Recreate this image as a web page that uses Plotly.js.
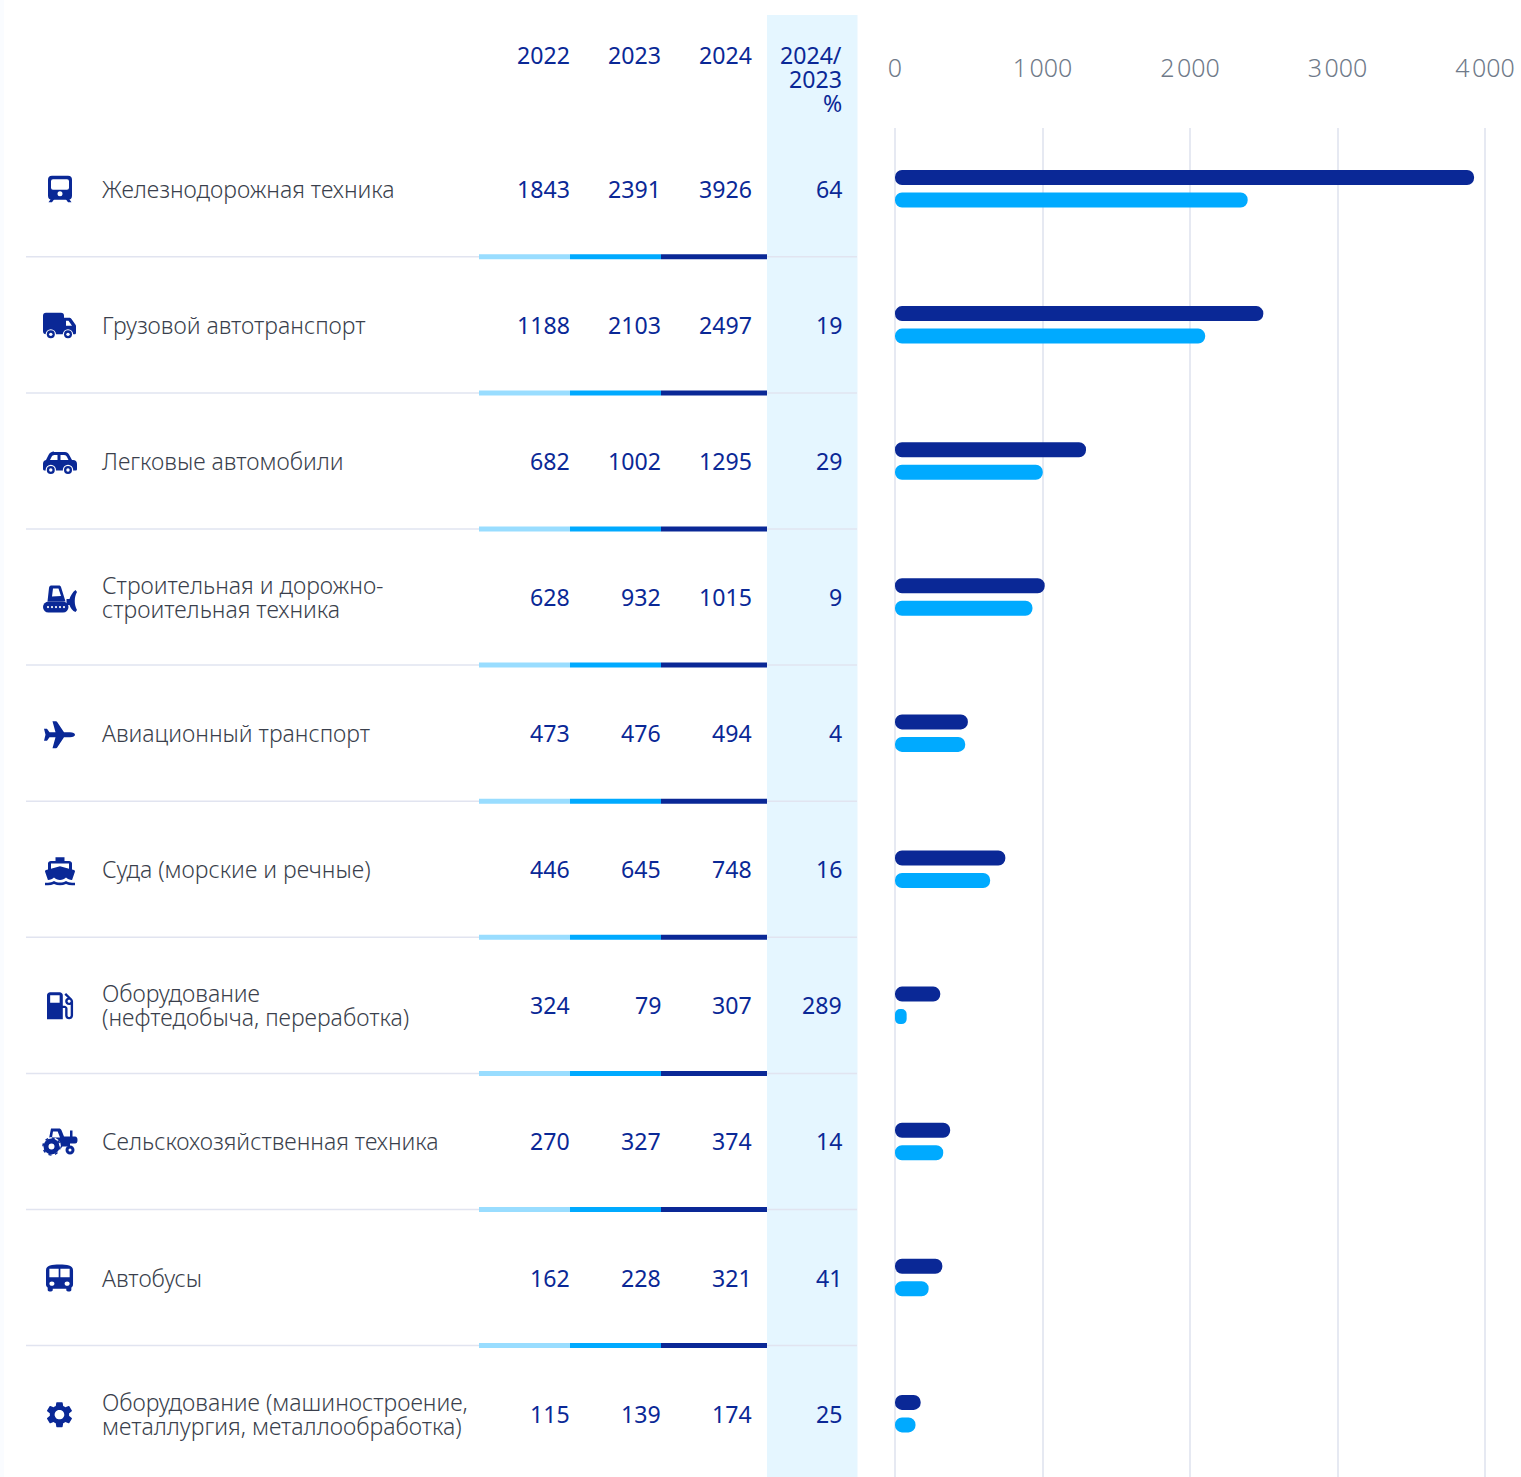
<!DOCTYPE html>
<html><head><meta charset="utf-8">
<script src="https://cdn.plot.ly/plotly-3.0.1.min.js"></script>
<style>html,body{margin:0;padding:0;background:#fff;overflow:hidden}</style>
</head><body><div id="chart" style="width:1521px;height:1477px"></div>
<script>
const categories=["Железнодорожная техника","Грузовой автотранспорт","Легковые автомобили","Строительная и дорожно-<br>строительная техника","Авиационный транспорт","Суда (морские и речные)","Оборудование<br>(нефтедобыча, переработка)","Сельскохозяйственная техника","Автобусы","Оборудование (машиностроение,<br>металлургия, металлообработка)"];
const v2022=[1843,1188,682,628,473,446,324,270,162,115];
const v2023=[2391,2103,1002,932,476,645,79,327,228,139];
const v2024=[3926,2497,1295,1015,494,748,307,374,321,174];
const pct=[64,19,29,9,4,16,289,14,41,25];
const headers=["2022","2023","2024"];
const tickVals=[0,1000,2000,3000,4000];
const tickText=["0","1\u200A000","2\u200A000","3\u200A000","4\u200A000"];

const W=1521,H=1477,ROW=136.1,NAVY="#0A2896",SKY="#00AAFF",PALE="#99DDFF",TINT="#E5F6FF",LINE="#E1E4F0",GREY="#6F7A89",TEXT="#3A3F4C";
const FF='"Noto Sans",sans-serif';
const px=x=>x/W, py=y=>1-y/H;
const mat=(t,d)=>`<path transform="${t}" d="${d}"/>`;
const ring=(x,y,r)=>`<circle cx="${x}" cy="${y}" r="${r+1.2}" fill="#fff"/><circle cx="${x}" cy="${y}" r="${r}"/><circle cx="${x}" cy="${y}" r="${r*0.42}" fill="#fff"/>`;
const icons=[
 `<path fill-rule="evenodd" d="M12 7h16a4 4 0 0 1 4 4v16a4 4 0 0 1-4 4H12a4 4 0 0 1-4-4V11a4 4 0 0 1 4-4zM13 10.500a2 2 0 0 0-2 2V19a2 2 0 0 0 2 2h14a2 2 0 0 0 2-2v-6.500a2 2 0 0 0-2-2zM20 22.500a2.500 2.500 0 1 0 0 5 2.500 2.500 0 0 0 0-5z"/><path d="M11 30l-2.500 3.500h3.500l2.500-3.500zM29 30l2.500 3.500H28L25.500 30z"/>`,
 `<path fill-rule="evenodd" d="M6 8h15a3 3 0 0 1 3 3v2h5c1 0 2 .5 2.500 1.200l3.500 5c.5.7 1 1.300 1 2.300v6.500c0 1-.7 1.500-1.500 1.500H6a3 3 0 0 1-3-3V11a3 3 0 0 1 3-3zM26 16v5h6l-3.500-5z"/>`+ring(10.8,29.500,4)+ring(28,29.500,4),
 `<path fill-rule="evenodd" d="M14 11h11c2 0 3 1 4 2.500l3 5.500h1c2.500 0 4 1.500 4 4v5c0 1-.5 1.500-1.500 1.500H5c-1 0-2-.5-2-1.500v-5c0-2.500 1-3.500 3-4l2.500-5c1-2 3-3.500 5.500-3.500zM14.500 14c-1.500 0-2.500.8-3 2l-1.500 3h7.500v-5zM20.500 14v5h8l-1.500-3c-.6-1.200-1.500-2-3-2z"/>`+ring(10.8,29,4)+ring(28,29,4),
 `<path fill-rule="evenodd" d="M11 8.500h8c1 0 1.600.5 2 1.500l4.500 14.500H7.500L9 11c.2-1.500 1-2.500 2-2.500zM13 11.500l-1 8 9-.5-2.500-7.500z"/><rect x="3" y="24.500" width="25.500" height="11" rx="5.500"/><g fill="#fff"><circle cx="8" cy="30" r="1.100"/><circle cx="12" cy="30" r="1.100"/><circle cx="16" cy="30" r="1.100"/><circle cx="20" cy="30" r="1.100"/><circle cx="24" cy="30" r="1.100"/></g><path d="M35.500 13l1.500 2c-3 5-3 13 0 18l-1.500 2c-3-1-5-4-6-7h-3v-6h3c1-3 3-7 6-9z"/>`,
 `<path d="M35 21.500c0 1.500-2 2.500-5 2.500h-6l-7 10.500c-.5.5-1 .5-3 .5h-1.500l3-11h-6l-2.500 3.500H4l1.500-6-1.500-6h3l2.500 3.500h6l-3-11H14c2 0 2.500 0 3 .5l7 10.500h6c3 0 5 1 5 2.500z"/>`,
 mat("translate(5,8) scale(1.5,1.27) translate(-2,-1)","M20 21c-1.390 0-2.780-.47-4-1.320-2.440 1.710-5.560 1.710-8 0C6.780 20.530 5.390 21 4 21H2v2h2c1.380 0 2.740-.35 4-.99 2.520 1.290 5.480 1.290 8 0 1.260.65 2.620.99 4 .99h2v-2h-2zM3.950 19H4c1.600 0 3.020-.88 4-2 .98 1.120 2.400 2 4 2s3.020-.88 4-2c.98 1.120 2.400 2 4 2h.05l1.890-6.680c.08-.26.06-.54-.06-.78s-.34-.42-.6-.5L20 10.620V6c0-1.100-.9-2-2-2h-3V1H9v3H6c-1.100 0-2 .9-2 2v4.620l-1.290.42c-.26.08-.48.26-.6.5s-.15.52-.06.78L3.950 19zM6 6h12v3.970L12 8 6 9.970V6z"),
 mat("translate(7,7) scale(1.58,1.5) translate(-4,-3)","M19.770 7.230l.01-.01-3.720-3.720L15 4.560l2.110 2.110c-.94.36-1.610 1.260-1.610 2.330 0 1.380 1.120 2.500 2.500 2.500.36 0 .69-.08 1-.21v7.210c0 .55-.45 1-1 1s-1-.45-1-1V14c0-1.100-.9-2-2-2h-1V5c0-1.100-.9-2-2-2H6c-1.100 0-2 .9-2 2v16h10v-7.500h1.500v5c0 1.380 1.120 2.500 2.500 2.500s2.500-1.120 2.500-2.500V9c0-.69-.28-1.320-.73-1.770zM12 10H6V5h6v5zm6 0c-.55 0-1-.45-1-1s.45-1 1-1 1 .45 1 1-.45 1-1 1z"),
 `<path fill-rule="evenodd" d="M11 7h8c1.200 0 2 .6 2.500 1.700L24 15h6V9h2.500v6H35a2.500 3.500 0 0 1 0 7H24l-3 5h-4l-8-10zM13 10l-1 6h8l-2.300-6z"/><path d="M20 21h10v4H20z"/><circle cx="11.500" cy="25" r="9.500" fill="#fff"/><circle cx="11.500" cy="25" r="5.500" fill="#fff" stroke="${NAVY}" stroke-width="5"/><circle cx="11.500" cy="25" r="8.500" fill="none" stroke="${NAVY}" stroke-width="1.500" stroke-dasharray="3 3.670"/><circle cx="30" cy="28.500" r="3" fill="#fff" stroke="${NAVY}" stroke-width="3"/>`,
 mat("translate(6,7) scale(1.69,1.42) translate(-4,-2)","M4 16c0 .88.39 1.670 1 2.220V20c0 .55.45 1 1 1h1c.55 0 1-.45 1-1v-1h8v1c0 .55.45 1 1 1h1c.55 0 1-.45 1-1v-1.780c.61-.55 1-1.340 1-2.220V6c0-3.500-3.580-4-8-4s-8 .5-8 4v10zm3.500 1c-.83 0-1.500-.67-1.500-1.500S6.670 14 7.500 14s1.500.67 1.500 1.500S8.330 17 7.500 17zm9 0c-.83 0-1.500-.67-1.500-1.500s.67-1.500 1.500-1.500 1.500.67 1.500 1.500-.67 1.500-1.500 1.500zm1.500-6h-5.500V5H18v6zm-6.500 0H6V5h5.500v6z"),
 mat("translate(7,8) scale(1.34,1.3) translate(-2.7,-2)","M19.140 12.940c.04-.3.06-.61.06-.94 0-.32-.02-.64-.07-.94l2.030-1.580c.18-.14.23-.41.12-.61l-1.920-3.320c-.12-.22-.37-.29-.59-.22l-2.390.96c-.5-.38-1.030-.7-1.620-.94l-.36-2.540c-.04-.24-.24-.41-.48-.41h-3.840c-.24 0-.43.17-.47.41l-.36 2.540c-.59.24-1.130.57-1.620.94l-2.390-.96c-.22-.08-.47 0-.59.22L2.740 8.870c-.12.21-.08.47.12.61l2.030 1.580c-.05.3-.09.63-.09.94s.02.64.07.94l-2.030 1.580c-.18.14-.23.41-.12.61l1.920 3.320c.12.22.37.29.59.22l2.390-.96c.5.38 1.030.7 1.620.94l.36 2.540c.05.24.24.41.48.41h3.840c.24 0 .44-.17.47-.41l.36-2.540c.59-.24 1.130-.56 1.620-.94l2.390.96c.22.08.47 0 .59-.22l1.920-3.320c.12-.22.07-.47-.12-.61l-2.010-1.580zM12 15.600c-1.980 0-3.600-1.620-3.600-3.600s1.620-3.600 3.600-3.600 3.600 1.620 3.600 3.600-1.620 3.600-3.600 3.600z")
];
const svgURI=s=>"data:image/svg+xml,"+encodeURIComponent(`<svg xmlns="http://www.w3.org/2000/svg" width="160" height="160" viewBox="0 0 40 40" fill="${NAVY}">${s}</svg>`);

// An explicit base makes Plotly round both ends of a bar.
const bar=(name,vals,color)=>({type:"bar",orientation:"h",name,y:categories,x:vals,base:vals.map(()=>0),marker:{color,cornerradius:7,line:{width:0}},hoverinfo:"x+name"});
const traces=[bar("2024",v2024,NAVY),bar("2023",v2023,SKY)];

const ann=[];
const num=(text,xp,yval,opt={})=>ann.push(Object.assign({text:String(text),xref:"paper",x:px(xp),yref:"y",y:yval,xanchor:"right",yanchor:"middle",showarrow:false,borderpad:0,font:{family:FF,size:23.1,color:NAVY}},opt));
const COLS=[571,662,752.8,843];
const hdrY=y=>({yref:"paper",y:py(y)});
headers.forEach((h,i)=>num(h,COLS[i],0,hdrY(55)));
["2024/","2023","%"].forEach((t,i)=>num(t,COLS[3],0,hdrY(55+24*i)));
categories.forEach((c,i)=>{
  [v2022[i],v2023[i],v2024[i],pct[i]].forEach((v,j)=>num(v,COLS[j],i));
  const lines=c.split("<br>");
  lines.forEach((t,k)=>{
    ann.push({text:t,xref:"paper",x:px(101),yref:"y",y:i+(k-(lines.length-1)/2)*24/ROW,xanchor:"left",yanchor:"middle",showarrow:false,borderpad:0,font:{family:FF,size:23,color:TEXT,weight:300}});
  });
});

const shapes=[
 {type:"rect",layer:"below",xref:"paper",yref:"paper",x0:0,x1:px(4),y0:0,y1:1,fillcolor:"#FAFCFF",line:{width:0}},
 {type:"rect",layer:"below",xref:"paper",yref:"paper",x0:px(767),x1:px(857.5),y0:py(15),y1:0,fillcolor:TINT,line:{width:0}}
];
for(let i=0;i<categories.length-1;i++){
  const yv=i+0.5;
  const seg=(a,b,col,w)=>shapes.push({type:"line",layer:"above",xref:"paper",yref:"y",x0:px(a),x1:px(b),y0:yv,y1:yv,line:{color:col,width:w}});
  seg(26,857,LINE,1.5);
  seg(479,570,PALE,5);seg(570,661,SKY,5);seg(661,767,NAVY,5);
}

const images=icons.map((s,i)=>({source:svgURI(s),xref:"paper",yref:"y",x:px(40),y:i,sizex:40/W,sizey:40/ROW,sizing:"stretch",xanchor:"left",yanchor:"middle",layer:"above"}));

const U=4000/590;
const layout={
 width:W,height:H,margin:{l:0,r:0,t:0,b:0},paper_bgcolor:"#fff",plot_bgcolor:"rgba(0,0,0,0)",showlegend:false,
 barmode:"group",bargap:1-45/ROW,bargroupgap:1/3,
 xaxis:{domain:[px(893),px(1487)],range:[-2*U,4000+2*U],side:"top",tickmode:"array",tickvals:tickVals,ticktext:tickText,ticks:"",ticklabelstandoff:45,showline:false,zeroline:false,showgrid:true,gridcolor:"#E6E9F2",gridwidth:2,tickfont:{family:FF,size:25,color:GREY,weight:300}},
 yaxis:{domain:[0,py(128)],type:"category",categoryorder:"array",categoryarray:categories,range:[(H-188.75)/ROW,-(188.75-128)/ROW],showticklabels:false,showgrid:false,zeroline:false,showline:false,ticks:""},
 annotations:ann,shapes:shapes,images:images
};
Plotly.newPlot("chart",traces,layout,{displayModeBar:false,staticPlot:true});
</script></body></html>
